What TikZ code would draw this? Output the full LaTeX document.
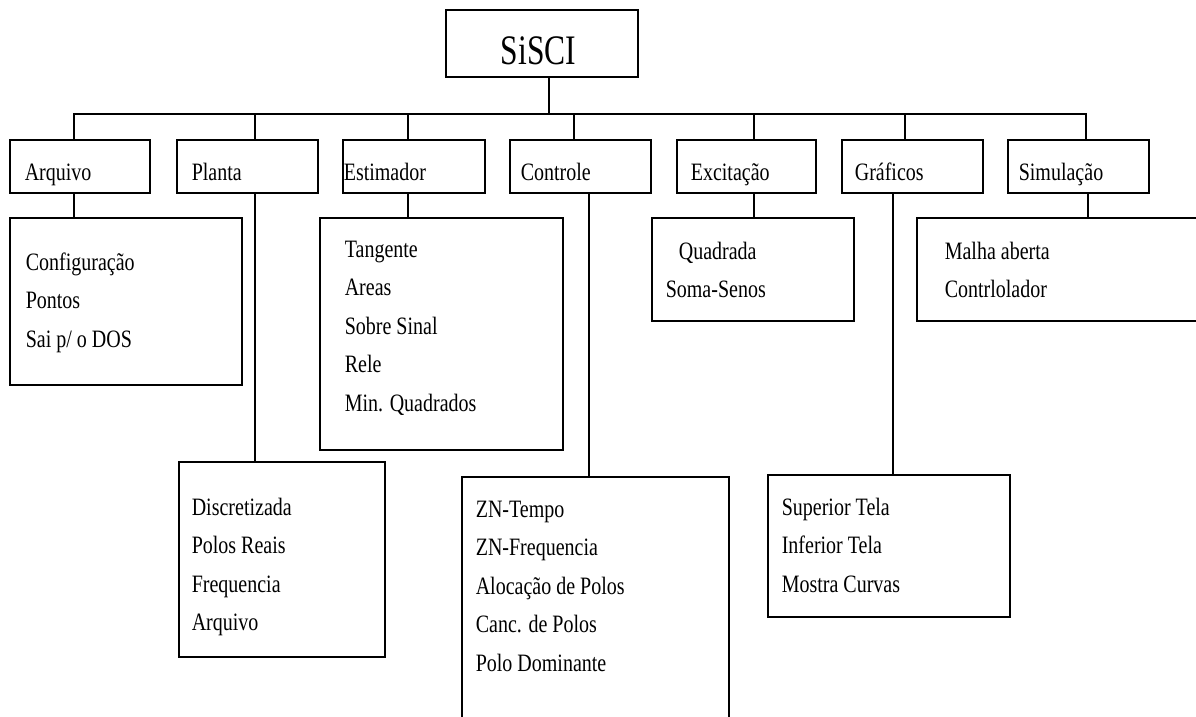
\documentclass[tikz,border=0pt]{standalone}
\usepackage{fontspec}
\setmainfont[FakeStretch=0.8]{Liberation Serif}
\newfontfamily\titlefont[FakeStretch=0.75]{Liberation Serif}
\newcommand\vconn[3]{\draw ([xshift=#2]#1) coordinate (tmp) -- (tmp |- #3);}
\begin{document}
\begin{tikzpicture}[x=1pt,y=-1pt,line width=1.6pt,
  box/.style={draw,rectangle,inner sep=0pt},
  lbl/.style={anchor=base west,inner sep=0pt,font=\fontsize{25}{28}\selectfont},
  item/.style={anchor=base west,inner sep=0pt,font=\fontsize{25}{28}\selectfont}]
\useasboundingbox (0,0) rectangle (1196,717);
% root
\node[box,minimum width=192pt,minimum height=67pt] (root) at (542,43.5) {};
\node[anchor=base,inner sep=0pt,font=\titlefont\fontsize{42}{46}\selectfont] (rootT) at (538.5,65) {SiSCI};
% level 1
\node[box,minimum width=140pt,minimum height=53pt] (arq) at (80,166.5) {};
\node[box,minimum width=141pt,minimum height=53pt] (pla) at (247.5,166.5) {};
\node[box,minimum width=142pt,minimum height=53pt] (est) at (414,166.5) {};
\node[box,minimum width=141pt,minimum height=53pt] (con) at (580.5,166.5) {};
\node[box,minimum width=139pt,minimum height=53pt] (exc) at (746.5,166.5) {};
\node[box,minimum width=141pt,minimum height=53pt] (gra) at (912.5,166.5) {};
\node[box,minimum width=141pt,minimum height=53pt] (sim) at (1078.5,166.5) {};
\node[lbl] (arqL) at (24,180) {Arquivo};
\node[lbl] (plaL) at (191,180) {Planta};
\node[lbl] (estL) at (343,180) {Estimador};
\node[lbl] (conL) at (520,180) {Controle};
\node[lbl] (excL) at (690,180) {Excitação};
\node[lbl] (graL) at (854,180) {Gráficos};
\node[lbl] (simL) at (1018,180) {Simulação};
% level 2
\node[box,minimum width=232pt,minimum height=167pt] (arqs) at (126,301.5) {};
\node[box,minimum width=243pt,minimum height=232pt] (ests) at (441.5,334) {};
\node[box,minimum width=206pt,minimum height=195pt] (plas) at (282,559.5) {};
\node[box,minimum width=267pt,minimum height=263pt] (cons) at (595.5,608.5) {};
\node[box,minimum width=202pt,minimum height=103pt] (excs) at (753,269.5) {};
\node[box,minimum width=242pt,minimum height=142pt] (gras) at (889,546) {};
\node[box,minimum width=293pt,minimum height=103pt] (sims) at (1063.5,269.5) {};
% items
\foreach \t [count=\i] in {Configuração,Pontos,Sai p/ o DOS}
  \node[item] (arqs-\i) at (25,{270+38.5*(\i-1)}) {\t};
\foreach \t [count=\i] in {Tangente,Areas,Sobre Sinal,Rele,Min. Quadrados}
  \node[item] (ests-\i) at (344,{257+38.5*(\i-1)}) {\t};
\foreach \t [count=\i] in {Discretizada,Polos Reais,Frequencia,Arquivo}
  \node[item] (plas-\i) at (191,{515+38.5*(\i-1)}) {\t};
\foreach \t [count=\i] in {ZN-Tempo,ZN-Frequencia,Alocação de Polos,Canc. de Polos,Polo Dominante}
  \node[item] (cons-\i) at (475,{517+38.5*(\i-1)}) {\t};
\node[item] (excs-1) at (678,259) {Quadrada};
\node[item] (excs-2) at (665,297.5) {Soma-Senos};
\foreach \t [count=\i] in {Superior Tela,Inferior Tela,Mostra Curvas}
  \node[item] (gras-\i) at (781,{515+38.5*(\i-1)}) {\t};
\foreach \t [count=\i] in {Malha aberta,Contrlolador}
  \node[item] (sims-\i) at (944,{259+38.5*(\i-1)}) {\t};
% bus
\draw ([xshift=7pt]root.south) coordinate (rs) -- (rs |- 0,114) coordinate (busM);
\draw ([xshift=-6pt]arq.north) coordinate (busL0) |- (busM);
\draw ([xshift=7.5pt]sim.north) coordinate (busR0) |- (busM);
\vconn{pla.north}{7.5pt}{busM}
\vconn{est.north}{-6pt}{busM}
\vconn{con.north}{-6.5pt}{busM}
\vconn{exc.north}{7.5pt}{busM}
\vconn{gra.north}{-7.5pt}{busM}
% down connectors
\vconn{arq.south}{-6pt}{arqs.north}
\vconn{pla.south}{7.5pt}{plas.north}
\vconn{est.south}{-6pt}{ests.north}
\vconn{con.south}{8.5pt}{cons.north}
\vconn{exc.south}{7.5pt}{excs.north}
\vconn{gra.south}{-19.5pt}{gras.north}
\vconn{sim.south}{9.5pt}{sims.north}
\end{tikzpicture}
\end{document}
